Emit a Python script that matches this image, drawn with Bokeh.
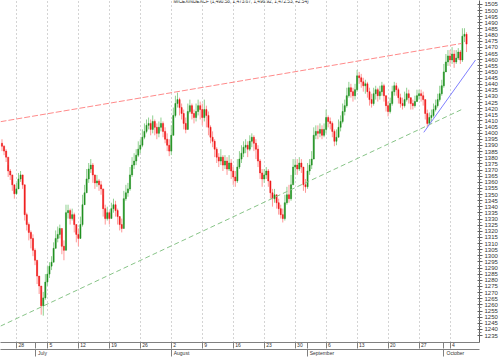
import numpy as np
from bokeh.plotting import figure
from bokeh.models import (Range1d, LinearAxis, FixedTicker, Grid, Label,
                          ColumnDataSource, AllLabels)
from bokeh.embed import file_html
from bokeh.resources import INLINE

title_text = "MICEXINDEXCF (1,490.58, 1,473.67, 1,496.92, 1,472.53, +2.54)"

# intraday bars (3 per trading day), first bar starts 7 bars before Mon 28 June
first_open = 1391.8
close = [
    1389.4, 1385.4, 1380.5, 1369.2, 1366.0, 1357.9, 1350.6,
    1354.6, 1362.7, 1366.0, 1357.9, 1333.6, 1325.5, 1319.1, 1314.2, 1304.5, 1296.4,
    1283.5, 1275.4, 1259.2, 1265.7, 1278.6,
    1285.1, 1291.6, 1294.8, 1306.1, 1314.2, 1317.5, 1322.3, 1307.8, 1304.5, 1335.2,
    1336.9, 1330.4, 1333.6, 1325.5, 1317.5,
    1314.2, 1325.5, 1341.7, 1351.4, 1362.7, 1370.8, 1374.0, 1366.0, 1359.5, 1361.1,
    1357.9, 1354.6, 1338.5, 1330.4, 1335.2,
    1330.4, 1338.5, 1341.7, 1336.9, 1332.0, 1325.5, 1322.3, 1346.6, 1351.4, 1354.6,
    1366.0, 1374.0, 1377.3, 1382.1, 1387.0,
    1390.2, 1396.7, 1401.5, 1406.4, 1408.0, 1403.1, 1409.6, 1404.8, 1399.9, 1404.8,
    1408.0, 1401.5, 1395.1, 1390.2, 1385.4,
    1398.3, 1414.5, 1424.2, 1427.4, 1420.9, 1416.1, 1408.0, 1403.1, 1417.7, 1422.5,
    1416.1, 1412.8, 1417.7, 1422.5, 1419.3,
    1412.8, 1419.3, 1414.5, 1404.8, 1396.7, 1393.4, 1387.0, 1380.5, 1377.3, 1380.5,
    1374.0, 1377.3, 1370.8, 1375.7, 1369.2,
    1364.3, 1361.1, 1372.4, 1378.9, 1383.7, 1388.6, 1390.2, 1387.0, 1393.4, 1396.7,
    1391.8, 1387.0, 1377.3, 1367.6, 1362.7,
    1366.0, 1369.2, 1361.1, 1351.4, 1346.6, 1349.8, 1343.3, 1338.5, 1333.6, 1330.4,
    1343.3, 1349.8, 1346.6, 1357.9, 1372.4,
    1374.0, 1370.8, 1375.7, 1372.4, 1357.9, 1356.3, 1369.2, 1374.0, 1378.9, 1398.3,
    1401.5, 1399.9, 1403.1, 1398.3, 1403.1,
    1412.8, 1409.6, 1408.0, 1401.5, 1393.4, 1396.7, 1404.8, 1409.6, 1417.7, 1422.5,
    1430.6, 1437.1, 1433.9, 1430.6, 1435.5,
    1446.8, 1445.2, 1441.9, 1438.7, 1440.3, 1433.9, 1427.4, 1424.2, 1432.2, 1435.5,
    1430.6, 1433.9, 1438.7, 1430.6, 1422.5,
    1417.7, 1424.2, 1433.9, 1438.7, 1435.5, 1429.0, 1424.2, 1422.5, 1427.4, 1432.2,
    1429.0, 1424.2, 1422.5, 1425.8, 1430.6,
    1432.2, 1430.6, 1427.4, 1416.1, 1408.0, 1412.8, 1414.5, 1419.3, 1422.5, 1427.4,
    1432.2, 1438.7, 1450.0, 1458.1, 1463.0,
    1459.7, 1464.6, 1458.1, 1461.3, 1466.2, 1459.7, 1479.1, 1480.7, 1472.7,
]
high = [
    1395.1, 1390.2, 1387.0, 1374.0, 1370.8, 1362.7, 1357.9,
    1359.5, 1367.6, 1369.2, 1366.0, 1357.9, 1335.2, 1327.2, 1320.7, 1317.5, 1306.1,
    1294.8, 1283.5, 1272.2, 1270.6, 1285.1,
    1291.6, 1294.8, 1299.7, 1311.0, 1320.7, 1323.9, 1325.5, 1320.7, 1312.6, 1341.7,
    1341.7, 1338.5, 1338.5, 1335.2, 1325.5,
    1322.3, 1332.0, 1349.8, 1357.9, 1370.8, 1375.7, 1378.9, 1375.7, 1366.0, 1366.0,
    1362.7, 1361.1, 1349.8, 1341.7, 1340.1,
    1336.9, 1343.3, 1346.6, 1344.9, 1338.5, 1332.0, 1330.4, 1353.0, 1357.9, 1359.5,
    1372.4, 1380.5, 1383.7, 1387.0, 1393.4,
    1395.1, 1403.1, 1408.0, 1411.2, 1412.8, 1411.2, 1414.5, 1411.2, 1408.0, 1409.6,
    1412.8, 1409.6, 1404.8, 1399.9, 1395.1,
    1406.4, 1420.9, 1430.6, 1433.1, 1429.0, 1424.2, 1419.3, 1412.8, 1424.2, 1427.4,
    1424.2, 1419.3, 1424.2, 1427.4, 1425.8,
    1424.2, 1427.4, 1422.5, 1417.7, 1406.4, 1401.5, 1395.1, 1388.6, 1383.7, 1387.0,
    1382.1, 1382.1, 1380.5, 1382.1, 1378.9,
    1372.4, 1369.2, 1378.9, 1385.4, 1390.2, 1393.4, 1395.1, 1393.4, 1398.3, 1399.9,
    1398.3, 1395.1, 1390.2, 1378.9, 1370.8,
    1370.8, 1372.4, 1370.8, 1361.1, 1354.6, 1354.6, 1349.8, 1346.6, 1341.7, 1338.5,
    1349.8, 1356.3, 1357.9, 1366.0, 1378.9,
    1378.9, 1378.9, 1380.5, 1378.9, 1366.0, 1362.7, 1375.7, 1378.9, 1385.4, 1404.8,
    1406.4, 1406.4, 1408.0, 1406.4, 1408.0,
    1419.3, 1414.5, 1412.8, 1409.6, 1403.1, 1403.1, 1411.2, 1414.5, 1424.2, 1427.4,
    1437.1, 1441.9, 1440.3, 1437.1, 1440.3,
    1451.6, 1450.0, 1448.4, 1445.2, 1443.6, 1441.9, 1437.1, 1432.2, 1437.1, 1438.7,
    1437.1, 1438.7, 1441.9, 1440.3, 1430.6,
    1425.8, 1429.0, 1438.7, 1441.9, 1441.1, 1437.1, 1432.2, 1429.0, 1433.9, 1437.1,
    1435.5, 1429.0, 1427.4, 1430.6, 1435.5,
    1435.5, 1435.5, 1433.9, 1427.4, 1419.3, 1416.9, 1419.3, 1424.2, 1427.4, 1432.2,
    1438.7, 1443.6, 1456.5, 1464.6, 1467.8,
    1467.8, 1470.2, 1467.8, 1467.8, 1469.4, 1467.8, 1485.6, 1485.6, 1482.4,
]
low = [
    1385.4, 1382.1, 1376.5, 1364.3, 1361.9, 1353.0, 1346.6,
    1349.8, 1356.3, 1360.3, 1354.6, 1328.8, 1320.7, 1312.6, 1306.1, 1299.7, 1292.4,
    1277.0, 1268.9, 1252.0, 1251.2, 1264.1,
    1275.4, 1281.9, 1288.4, 1296.4, 1306.1, 1311.0, 1314.2, 1301.3, 1296.4, 1304.5,
    1330.4, 1325.5, 1328.8, 1319.1, 1311.0,
    1307.8, 1314.2, 1323.9, 1341.7, 1353.0, 1359.5, 1367.6, 1359.5, 1354.6, 1356.3,
    1353.0, 1349.8, 1332.0, 1325.5, 1328.8,
    1325.5, 1332.0, 1335.2, 1332.0, 1325.5, 1320.7, 1319.1, 1325.5, 1344.9, 1348.2,
    1353.0, 1364.3, 1370.8, 1374.0, 1380.5,
    1383.7, 1388.6, 1395.1, 1399.9, 1403.1, 1398.3, 1399.9, 1398.3, 1395.1, 1396.7,
    1401.5, 1396.7, 1391.8, 1385.4, 1381.3,
    1382.1, 1398.3, 1412.8, 1420.9, 1414.5, 1411.2, 1403.1, 1399.9, 1403.1, 1416.1,
    1411.2, 1408.0, 1409.6, 1414.5, 1411.2,
    1406.4, 1409.6, 1404.8, 1398.3, 1391.8, 1388.6, 1380.5, 1375.7, 1372.4, 1374.0,
    1369.2, 1370.8, 1366.0, 1369.2, 1362.7,
    1357.9, 1356.3, 1359.5, 1370.8, 1375.7, 1380.5, 1383.7, 1380.5, 1385.4, 1388.6,
    1385.4, 1378.9, 1372.4, 1362.7, 1356.3,
    1359.5, 1362.7, 1356.3, 1346.6, 1340.1, 1343.3, 1338.5, 1333.6, 1330.4, 1327.2,
    1328.8, 1341.7, 1343.3, 1344.9, 1359.5,
    1366.0, 1366.0, 1369.2, 1367.6, 1353.0, 1351.4, 1354.6, 1366.0, 1370.8, 1378.9,
    1395.1, 1395.1, 1396.7, 1395.1, 1396.7,
    1399.9, 1404.8, 1403.1, 1396.7, 1389.4, 1390.2, 1396.7, 1401.5, 1408.0, 1414.5,
    1420.9, 1429.0, 1429.0, 1425.8, 1427.4,
    1433.9, 1440.3, 1437.1, 1433.9, 1432.2, 1429.0, 1422.5, 1420.9, 1422.5, 1427.4,
    1425.8, 1427.4, 1430.6, 1425.8, 1417.7,
    1413.7, 1416.1, 1422.5, 1430.6, 1430.6, 1424.2, 1420.9, 1419.3, 1420.9, 1425.8,
    1424.2, 1419.3, 1419.3, 1420.9, 1425.8,
    1427.4, 1425.8, 1422.5, 1411.2, 1404.8, 1408.0, 1409.6, 1412.8, 1417.7, 1420.9,
    1425.8, 1430.6, 1437.1, 1450.0, 1454.9,
    1454.9, 1456.5, 1453.3, 1456.5, 1459.7, 1456.5, 1458.1, 1474.3, 1466.2,
]

# axis labels
day_labels = ["28", "5", "12", "19", "26", "2", "9", "16", "23", "30",
              "6", "13", "20", "27", "4"]
month_labels = ["July", "August", "September", "October"]
month_start_day = [3, 25, 47, 69]      # trading days after Mon 28 June
y_ticks = list(range(1235, 1510, 5))

# trend lines (bar index, value)
red_x, red_y = [-0.72, 222.6], [1409.4, 1473.2]
green_x, green_y = [-0.72, 222.6], [1242.7, 1419.3]
blue_x, blue_y = [204.3, 229.35], [1400.7, 1459.7]

BARS_PER_DAY = 3
LEAD = 7  # bars before first weekly tick
X0, X1 = -0.72, 231.28
FRAME_W = 481
PX_PER_BAR = FRAME_W / (X1 - X0)
LABEL_FONT = 5.0

n = len(close)
xs = np.arange(n)
opens = [first_open] + close[:-1]
up = [c >= o for c, o in zip(close, opens)]
body_col = ["#209020" if u else "#ee1818" for u in up]
wick_col = ["#90d090" if u else "#ff9898" for u in up]
src = ColumnDataSource(dict(x=xs, h=high, l=low, bc=body_col, wc=wick_col,
                            top=[max(a, b) for a, b in zip(opens, close)],
                            bot=[min(a, b) for a, b in zip(opens, close)]))

week_ticks = [LEAD + 5 * BARS_PER_DAY * w for w in range(len(day_labels))]
month_ticks = [LEAD + BARS_PER_DAY * d for d in month_start_day]


def label_positions(ticks, texts):
    # put each label just right of its tick (text centre = tick + gap + half width)
    pos = []
    for t, s in zip(ticks, texts):
        off_px = 2 + 0.55 * LABEL_FONT * len(s) / 2
        v = round(t + off_px / PX_PER_BAR, 3)
        if v == int(v):
            v += 0.001
        pos.append(v)
    return pos


day_pos = label_positions(week_ticks, day_labels)
month_pos = label_positions(month_ticks, month_labels)

p = figure(width=500, height=358, output_backend="svg", toolbar_location=None,
           x_range=Range1d(X0, X1), y_range=Range1d(1229.33, 1508.23),
           x_axis_location=None, y_axis_location=None,
           min_border_left=0, min_border_top=0, min_border_right=19,
           min_border_bottom=13, outline_line_color=None,
           background_fill_color="white", border_fill_color="white")
p.xgrid.visible = False
p.ygrid.visible = False

grid = Grid(dimension=0, ticker=FixedTicker(ticks=week_ticks),
            grid_line_color="#a8a8a8", grid_line_dash="1 3", grid_line_width=1)
p.add_layout(grid)

p.segment(x0="x", y0="l", x1="x", y1="h", source=src, line_color="wc", line_width=1)
p.vbar(x="x", width=0.55, top="top", bottom="bot", source=src,
       fill_color="bc", line_color="bc", line_width=0.5)

p.line(red_x, red_y, line_color="#ff8a8a", line_width=1, line_dash="6 2")
p.line(green_x, green_y, line_color="#88c488", line_width=1, line_dash="5 3")
p.line(blue_x, blue_y, line_color="#8080ff", line_width=1)

yax = LinearAxis(ticker=FixedTicker(ticks=y_ticks,
                                    minor_ticks=[t + 2.5 for t in y_ticks[:-1]]),
                 major_label_policy=AllLabels(),
                 major_label_text_font_size="6px",
                 major_label_text_font="Liberation Sans",
                 major_label_text_color="#333333",
                 major_label_standoff=2,
                 major_tick_in=2, major_tick_out=3,
                 minor_tick_in=1, minor_tick_out=2,
                 axis_line_color="#606060", major_tick_line_color="#606060",
                 minor_tick_line_color="#808080")
p.add_layout(yax, "right")

common = dict(major_label_policy=AllLabels(),
              major_label_text_font_size=f"{LABEL_FONT}px",
              major_label_text_font="Liberation Sans",
              major_label_text_color="#333333",
              major_tick_in=0, major_tick_out=0, major_tick_line_color=None,
              minor_tick_in=0, axis_line_color="#808080",
              minor_tick_line_color="#808080")

xax1 = LinearAxis(ticker=FixedTicker(ticks=day_pos,
                                     minor_ticks=sorted(week_ticks + month_ticks)),
                  major_label_overrides={v: s for v, s in zip(day_pos, day_labels)},
                  minor_tick_out=6, major_label_standoff=-6, **common)
p.add_layout(xax1, "below")
xax2 = LinearAxis(ticker=FixedTicker(ticks=month_pos, minor_ticks=month_ticks),
                  major_label_overrides={v: s for v, s in zip(month_pos, month_labels)},
                  minor_tick_out=7, major_label_standoff=-7, **common)
p.add_layout(xax2, "below")

p.add_layout(Label(x=240.5, y=341.3, x_units="screen", y_units="screen",
                   text=title_text, text_align="center", text_baseline="middle",
                   text_font="Liberation Sans", text_font_size="4.7px",
                   text_color="#222222"))

open("out.html", "w").write(file_html(p, INLINE))
